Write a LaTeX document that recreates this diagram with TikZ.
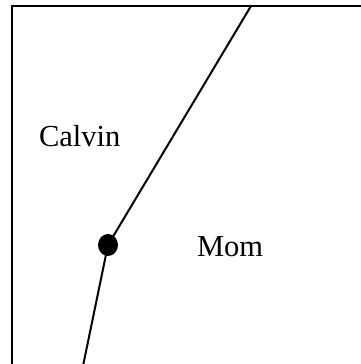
\documentclass[tikz,border=0pt]{standalone}
\usepackage{fontspec}
\setmainfont{Liberation Serif}
\usetikzlibrary{shapes.geometric}
\begin{document}
\begin{tikzpicture}[x=1pt, y=1pt, line width=2pt,
    lbl/.style={anchor=base west, inner sep=0pt, font=\fontsize{30.5}{36}\selectfont},
    junction/.style={ellipse, fill=black, minimum width=20pt, minimum height=22pt, inner sep=0pt}]
    \useasboundingbox (0,0) rectangle (361,364);

    % Outer frame (runs off the right and bottom edges)
    \draw[line width=2.4pt] (12,-10) -- (12,358) -- (375,358);

    % Boundary between the two regions
    \coordinate (top) at (251,358);
    \coordinate (bottom) at (83,-2);
    \node[junction] (dot) at (108,119) {};
    \draw (top) -- (dot.center) -- (bottom);

    % Region labels
    \node[lbl] (calvin) at (38,217) {Calvin};
    \node[lbl] (mom) at (196,107) {Mom};
\end{tikzpicture}
\end{document}
